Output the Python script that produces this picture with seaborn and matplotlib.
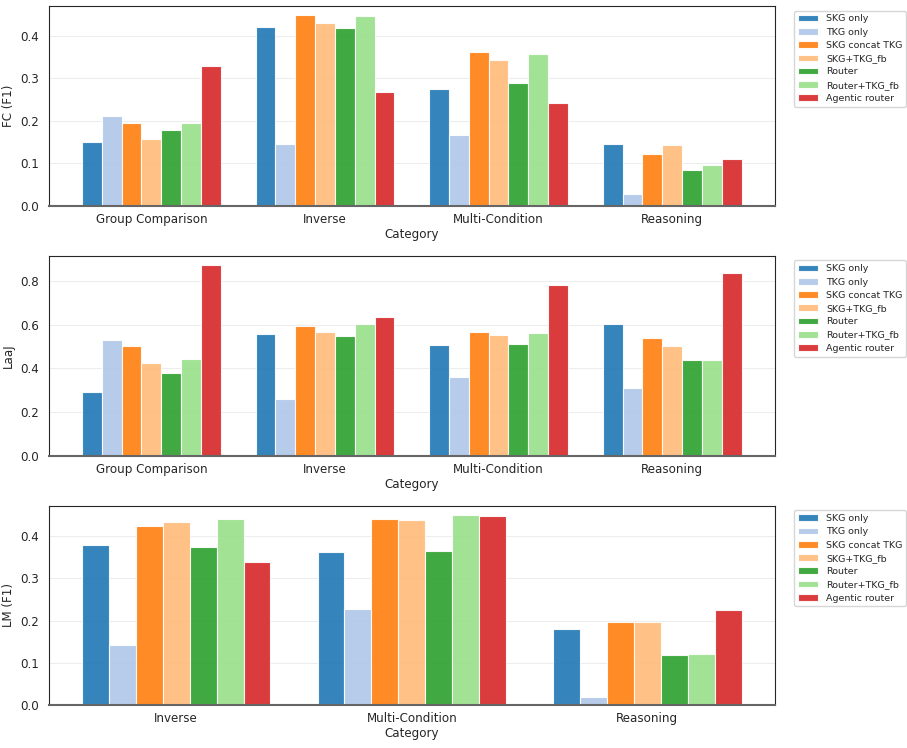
import numpy as np
import pandas as pd
import matplotlib
matplotlib.use("Agg")
import matplotlib.pyplot as plt
import seaborn as sns

# methods (hue order) and categories
methods = ["SKG only", "TKG only", "SKG concat TKG", "SKG+TKG_fb",
           "Router", "Router+TKG_fb", "Agentic router"]
cats_fc = ["Group Comparison", "Inverse", "Multi-Condition", "Reasoning"]
cats_laaj = ["Group Comparison", "Inverse", "Multi-Condition", "Reasoning"]
cats_lm = ["Inverse", "Multi-Condition", "Reasoning"]

# FC (F1): one list per method, values in category order
fc_skg = [0.150, 0.420, 0.275, 0.146]
fc_tkg = [0.212, 0.146, 0.167, 0.028]
fc_concat = [0.195, 0.448, 0.361, 0.122]
fc_fb = [0.158, 0.431, 0.344, 0.143]
fc_router = [0.179, 0.418, 0.290, 0.084]
fc_router_fb = [0.194, 0.446, 0.357, 0.097]
fc_agentic = [0.330, 0.269, 0.242, 0.110]

# LaaJ
laaj_skg = [0.292, 0.560, 0.506, 0.606]
laaj_tkg = [0.529, 0.260, 0.363, 0.311]
laaj_concat = [0.502, 0.594, 0.566, 0.542]
laaj_fb = [0.423, 0.566, 0.554, 0.503]
laaj_router = [0.377, 0.551, 0.512, 0.440]
laaj_router_fb = [0.445, 0.603, 0.562, 0.438]
laaj_agentic = [0.874, 0.635, 0.783, 0.837]

# LM (F1)
lm_skg = [0.379, 0.362, 0.180]
lm_tkg = [0.143, 0.227, 0.020]
lm_concat = [0.425, 0.440, 0.196]
lm_fb = [0.434, 0.439, 0.196]
lm_router = [0.374, 0.366, 0.120]
lm_router_fb = [0.441, 0.450, 0.121]
lm_agentic = [0.340, 0.448, 0.225]


def to_long(cats, series):
    rows = []
    for m, vals in zip(methods, series):
        for c, v in zip(cats, vals):
            rows.append({"Category": c, "Method": m, "Score": v})
    return pd.DataFrame(rows)


panels = [
    ("FC (F1)", to_long(cats_fc, [fc_skg, fc_tkg, fc_concat, fc_fb,
                                  fc_router, fc_router_fb, fc_agentic]), cats_fc),
    ("LaaJ", to_long(cats_laaj, [laaj_skg, laaj_tkg, laaj_concat, laaj_fb,
                                 laaj_router, laaj_router_fb, laaj_agentic]), cats_laaj),
    ("LM (F1)", to_long(cats_lm, [lm_skg, lm_tkg, lm_concat, lm_fb,
                                  lm_router, lm_router_fb, lm_agentic]), cats_lm),
]

sns.set_style("white")
plt.rcParams["font.size"] = 8.6
plt.rcParams["axes.labelsize"] = 8.6
plt.rcParams["xtick.labelsize"] = 8.6
plt.rcParams["ytick.labelsize"] = 8.6
palette = sns.color_palette("tab20", 7)

fig, axes = plt.subplots(3, 1, figsize=(9.07, 7.48), dpi=100)

for ax, (ylabel, df, cats) in zip(axes, panels):
    sns.barplot(data=df, x="Category", y="Score", hue="Method",
                order=cats, hue_order=methods, palette=palette, saturation=1,
                alpha=0.9, edgecolor="white", linewidth=0.8, ax=ax)
    # matplotlib-style x margins instead of seaborn's fixed limits
    ax.set_autoscalex_on(True)
    ax.margins(x=0.05)
    ax.autoscale_view(scaley=False)
    ax.set_ylabel(ylabel)
    ax.set_xlabel("Category", labelpad=1.5)
    ax.tick_params(axis="x", pad=1.5)
    ax.grid(axis="y", alpha=0.35)
    ax.set_axisbelow(True)
    ax.spines["bottom"].set_color("0.4")
    ax.spines["bottom"].set_linewidth(1.5)
    ax.legend(loc="upper left", bbox_to_anchor=(1.02, 1), fontsize=6.8,
              handlelength=2.2, labelspacing=0.45)

plt.subplots_adjust(left=0.054, right=0.854, top=0.992, bottom=0.057, hspace=0.25)
fig.savefig("out.png", dpi=100)
